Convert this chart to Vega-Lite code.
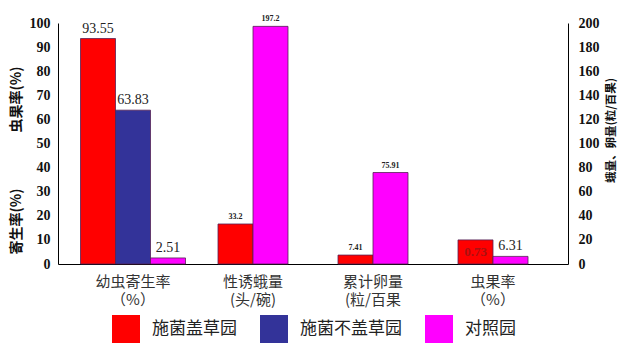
{
  "$schema": "https://vega.github.io/schema/vega-lite/v6.json",
  "autosize": "none",
  "width": 510,
  "height": 241,
  "padding": {"left": 58, "top": 23, "right": 72, "bottom": 91},
  "background": "white",
  "config": {"view": {"stroke": null}},
  "data": {"values": [
    {"group": "幼虫寄生率|（%）", "garden": "施菌盖草园", "value": 93.55, "label": "93.55"},
    {"group": "幼虫寄生率|（%）", "garden": "施菌不盖草园", "value": 63.83, "label": "63.83"},
    {"group": "幼虫寄生率|（%）", "garden": "对照园", "value": 2.51, "label": "2.51"},
    {"group": "性诱蛾量|(头/碗)", "garden": "施菌盖草园", "value": 33.2, "label": "33.2"},
    {"group": "性诱蛾量|(头/碗)", "garden": "对照园", "value": 197.2, "label": "197.2"},
    {"group": "累计卵量|(粒/百果", "garden": "施菌盖草园", "value": 7.41, "label": "7.41"},
    {"group": "累计卵量|(粒/百果", "garden": "对照园", "value": 75.91, "label": "75.91"},
    {"group": "虫果率|（%）", "garden": "施菌盖草园", "value": 20, "label": "0.73"},
    {"group": "虫果率|（%）", "garden": "对照园", "value": 6.31, "label": "6.31"}
  ]},
  "encoding": {
    "x": {
      "field": "group", "type": "nominal", "sort": null,
      "scale": {"domain": ["幼虫寄生率|（%）", "性诱蛾量|(头/碗)", "累计卵量|(粒/百果", "虫果率|（%）"], "paddingInner": 0.125, "paddingOuter": 0.1875},
      "axis": {"title": null, "labelAngle": 0, "ticks": false, "labelOverlap": false, "labelExpr": "split(datum.label, '|')", "labelFont": "Noto Sans CJK SC", "labelFontSize": 15, "labelColor": "#333", "labelLineHeight": 18, "labelPadding": 10, "domainColor": "#000", "labelBaseline": "top"}
    },
    "color": {
      "field": "garden", "type": "nominal",
      "scale": {"domain": ["施菌盖草园", "施菌不盖草园", "对照园"], "range": ["#FF0000", "#333399", "#FF00FF"]},
      "legend": {"title": null, "orient": "none", "legendX": 54, "legendY": 292, "direction": "horizontal", "symbolType": "square", "symbolSize": 784, "symbolStrokeWidth": 0, "labelFont": "Noto Sans CJK SC", "labelFontSize": 17, "labelColor": "#222", "labelOffset": 12, "columnPadding": 23, "symbolOpacity": 1}
    }
  },
  "layer": [
    {
      "transform": [{"filter": "datum.group == '幼虫寄生率|（%）'"}],
      "encoding": {
        "xOffset": {"field": "garden", "type": "nominal", "scale": {"domain": ["施菌盖草园", "施菌不盖草园", "对照园"], "paddingInner": 0, "paddingOuter": 0}},
        "y": {"field": "value", "type": "quantitative", "scale": {"domain": [0, 100]},
          "axis": {"orient": "left", "grid": false, "ticks": false, "labelOverlap": false, "values": [0,10,20,30,40,50,60,70,80,90,100], "labelFont": "Liberation Serif", "labelFontSize": 14, "labelFontWeight": "bold", "labelColor": "#111", "labelPadding": 8, "domainColor": "#000",
            "title": "寄生率(%)\u3000\u3000\u3000\u3000虫果率(%)", "titleY": 137, "titleFont": "Noto Sans CJK SC", "titleFontSize": 14, "titleFontWeight": "bold", "titleColor": "#111", "titlePadding": 6}}
      },
      "layer": [
        {"mark": {"type": "bar", "stroke": "#552255", "strokeWidth": 0.8}},
        {"mark": {"type": "text", "baseline": "bottom", "dy": -3, "font": "Liberation Serif", "fontSize": 14, "color": "#222"}, "encoding": {"text": {"field": "label"}, "color": {"value": "#222"}}}
      ]
    },
    {
      "transform": [{"filter": "datum.group != '幼虫寄生率|（%）'"}],
      "encoding": {
        "xOffset": {"field": "garden", "type": "nominal", "scale": {"domain": ["施菌盖草园", "对照园"], "paddingInner": 0, "paddingOuter": 0.5}},
        "y": {"field": "value", "type": "quantitative", "scale": {"domain": [0, 200]},
          "axis": {"orient": "right", "grid": false, "ticks": false, "labelOverlap": false, "values": [0,20,40,60,80,100,120,140,160,180,200], "labelFont": "Liberation Serif", "labelFontSize": 14, "labelFontWeight": "bold", "labelColor": "#111", "labelPadding": 10, "domainColor": "#000",
            "title": "蛾量、卵量(粒/百果)", "titleAngle": 270, "titleBaseline": "top", "titleY": 107, "titleFont": "Noto Sans CJK SC", "titleFontSize": 11.5, "titleFontWeight": "bold", "titleColor": "#111", "titlePadding": 6}}
      },
      "layer": [
        {"mark": {"type": "bar", "stroke": "#552255", "strokeWidth": 0.8}},
        {"transform": [{"filter": "datum.group != '虫果率|（%）'"}],
         "mark": {"type": "text", "baseline": "bottom", "dy": -3, "font": "Liberation Serif", "fontSize": 8, "fontWeight": "bold"}, "encoding": {"text": {"field": "label"}, "color": {"value": "#222"}}},
        {"transform": [{"filter": "datum.group == '虫果率|（%）' && datum.garden == '对照园'"}],
         "mark": {"type": "text", "baseline": "bottom", "dy": -3, "font": "Liberation Serif", "fontSize": 14}, "encoding": {"text": {"field": "label"}, "color": {"value": "#222"}}},
        {"transform": [{"filter": "datum.group == '虫果率|（%）' && datum.garden == '施菌盖草园'"}],
         "mark": {"type": "text", "baseline": "middle", "dy": 12, "font": "Liberation Serif", "fontSize": 13, "fontWeight": "bold"}, "encoding": {"text": {"field": "label"}, "color": {"value": "#AA1111"}}}
      ]
    }
  ],
  "resolve": {"scale": {"y": "independent", "xOffset": "independent"}}
}
